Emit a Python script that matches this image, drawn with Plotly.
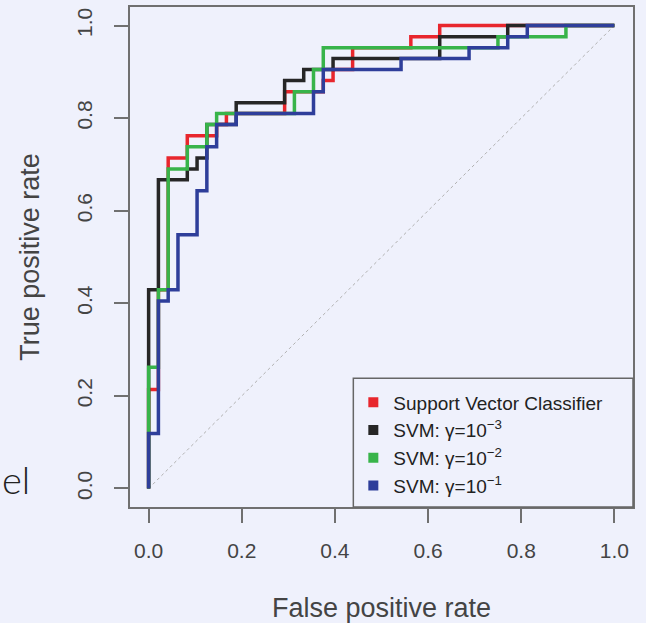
import plotly.graph_objects as go

# ROC curve corner points (false positive rate, true positive rate)
fpr_svc = [0.0, 0.021, 0.042, 0.083, 0.146, 0.167, 0.292, 0.375, 0.396, 0.438, 0.563, 0.625, 1.0]
tpr_svc = [0.0, 0.214, 0.429, 0.714, 0.762, 0.786, 0.810, 0.857, 0.881, 0.905, 0.952, 0.976, 1.0]

fpr_g3 = [0.0, 0.021, 0.083, 0.104, 0.125, 0.188, 0.292, 0.333, 0.396, 0.625, 0.771, 1.0]
tpr_g3 = [0.0, 0.429, 0.667, 0.690, 0.714, 0.786, 0.833, 0.881, 0.905, 0.929, 0.976, 1.0]

fpr_g2 = [0.0, 0.021, 0.042, 0.083, 0.125, 0.146, 0.313, 0.354, 0.375, 0.750, 0.896, 1.0]
tpr_g2 = [0.0, 0.262, 0.429, 0.690, 0.738, 0.786, 0.810, 0.857, 0.905, 0.952, 0.976, 1.0]

fpr_g1 = [0.0, 0.021, 0.042, 0.063, 0.104, 0.125, 0.146, 0.188, 0.354, 0.375, 0.542, 0.688, 0.771, 0.813, 1.0]
tpr_g1 = [0.0, 0.119, 0.405, 0.429, 0.548, 0.643, 0.738, 0.786, 0.810, 0.857, 0.905, 0.929, 0.952, 0.976, 1.0]

diag = [0.0, 1.0]
ticks = [0.0, 0.2, 0.4, 0.6, 0.8, 1.0]
tick_text = ["0.0", "0.2", "0.4", "0.6", "0.8", "1.0"]

names = ["Support Vector Classifier",
         "SVM: γ=10<sup>−3</sup>",
         "SVM: γ=10<sup>−2</sup>",
         "SVM: γ=10<sup>−1</sup>"]
colors = ["#e8262d", "#262626", "#38b44a", "#2e3e9a"]
series = [(fpr_svc, tpr_svc), (fpr_g3, tpr_g3), (fpr_g2, tpr_g2), (fpr_g1, tpr_g1)]

BG = "#eff1fc"
FONT = "Liberation Sans, Arial, sans-serif"

fig = go.Figure()
fig.add_trace(go.Scatter(x=diag, y=diag, mode="lines",
                         line=dict(color="#b0b0b0", width=1, dash="dot"),
                         showlegend=False, hoverinfo="skip"))
for (fx, ty), c in zip(series, colors):
    fig.add_trace(go.Scatter(x=fx, y=ty, mode="lines", line_shape="vh",
                             line=dict(color=c, width=3.5), showlegend=False))
for n, c in zip(names, colors):
    fig.add_trace(go.Scatter(x=[None], y=[None], mode="markers", name=n,
                             marker=dict(symbol="square", size=10, color=c)))

axis_common = dict(range=[-0.04, 1.04], showgrid=False, zeroline=False,
                   showline=True, mirror=True, linecolor="#707070", linewidth=1.5,
                   ticks="outside", ticklen=14, tickwidth=1.5, tickcolor="#707070",
                   tickvals=ticks, ticktext=tick_text,
                   tickfont=dict(family=FONT, size=21, color="#444444"))

fig.update_layout(
    width=646, height=623,
    margin=dict(l=130, r=13, t=5, b=114),
    paper_bgcolor=BG, plot_bgcolor=BG,
    xaxis=dict(**axis_common, ticklabelstandoff=10,
               title=dict(text="False positive rate", standoff=37,
                          font=dict(family=FONT, size=27, color="#444444"))),
    yaxis=dict(**axis_common, tickangle=-90, ticklabelstandoff=14,
               title=dict(text="True positive rate", standoff=25,
                          font=dict(family=FONT, size=27, color="#444444"))),
    legend=dict(x=0.444, y=0.247, xanchor="left", yanchor="top",
                bgcolor="rgba(0,0,0,0)", borderwidth=0,
                font=dict(family=FONT, size=19, color="#222222")),
    shapes=[dict(type="rect", xref="paper", yref="paper",
                 x0=0.444, x1=1.0, y0=0.0, y1=0.2576,
                 line=dict(color="#666666", width=1.5), fillcolor="rgba(0,0,0,0)")],
    annotations=[dict(text="el", xref="paper", yref="paper",
                      x=-0.2584, y=0.057, xanchor="left", yanchor="middle",
                      showarrow=False,
                      font=dict(family="Lato", size=38, color="#222222", weight=300))],
)

fig.write_html("out.html")
